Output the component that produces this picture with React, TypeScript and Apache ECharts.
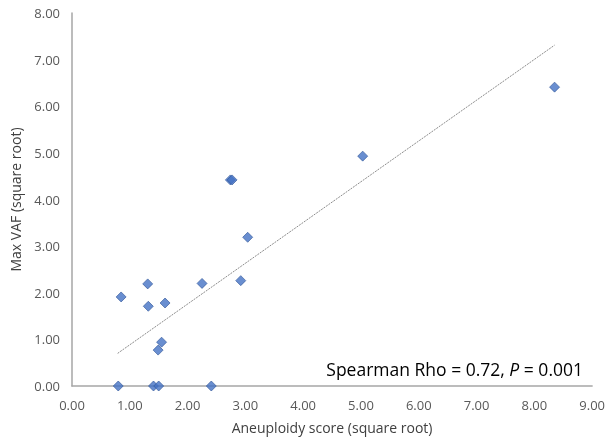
import React, { useEffect, useRef } from "react";
import * as echarts from "echarts";

const xValues = [0.85, 1.31, 1.32, 1.61, 1.55, 1.49, 2.25, 2.74, 2.77, 3.04, 2.92, 0.80, 1.41, 1.50, 2.41, 5.03, 8.35];
const yValues = [1.91, 2.19, 1.71, 1.78, 0.94, 0.77, 2.20, 4.42, 4.42, 3.19, 2.26, 0.00, 0.00, 0.00, 0.00, 4.93, 6.41];
const trendX = [0.79, 8.35];
const trendY = [0.70, 7.31];
const xTicks = [0, 1, 2, 3, 4, 5, 6, 7, 8, 9];
const yTicks = [0, 1, 2, 3, 4, 5, 6, 7, 8];
const xName = "Aneuploidy score (square root)";
const yName = "Max VAF (square root)";
const annotation = "Spearman Rho = 0.72, ";
const annotationP = "P";
const annotationVal = " = 0.001";

export default function App() {
  const ref = useRef<HTMLDivElement>(null);
  useEffect(() => {
    if (!ref.current) return;
    const chart = echarts.init(ref.current, null, { renderer: "svg" });
    const font = "'Open Sans', sans-serif";
    const axisLabel = { color: "#595959", fontFamily: font, fontSize: 13, formatter: (v: number) => v.toFixed(2) };
    chart.setOption({
      animation: false,
      grid: { left: 70, right: 15, top: 13, bottom: 41 },
      xAxis: {
        type: "value",
        min: xTicks[0],
        max: xTicks[xTicks.length - 1],
        interval: 1,
        name: xName,
        nameLocation: "middle",
        nameGap: 34,
        nameTextStyle: { color: "#404040", fontFamily: font, fontSize: 14 },
        axisLine: { show: true, lineStyle: { color: "#a6a6a6", width: 1.5 } },
        axisTick: { show: false },
        splitLine: { show: false },
        axisLabel: { ...axisLabel, margin: 12 },
      },
      yAxis: {
        type: "value",
        min: yTicks[0],
        max: yTicks[yTicks.length - 1],
        interval: 1,
        name: yName,
        nameLocation: "middle",
        nameGap: 50,
        nameTextStyle: { color: "#404040", fontFamily: font, fontSize: 14 },
        axisLine: { show: true, lineStyle: { color: "#a6a6a6", width: 1.5 } },
        axisTick: { show: false },
        splitLine: { show: false },
        axisLabel: { ...axisLabel, margin: 12 },
      },
      series: [
        {
          type: "line",
          data: trendX.map((x, i) => [x, trendY[i]]),
          showSymbol: false,
          symbol: "none",
          lineStyle: { color: "#8c8c8c", width: 1, type: [2, 1] },
          z: 1,
        },
        {
          type: "scatter",
          data: xValues.map((x, i) => [x, yValues[i]]),
          symbol: "diamond",
          symbolSize: 10,
          itemStyle: { color: "#4472C4", borderColor: "#2F5597", borderWidth: 0.8 },
          z: 2,
        },
      ],
      graphic: [
        {
          type: "text",
          right: 25,
          top: 360,
          style: {
            text: `{a|${annotation}}{i|${annotationP}}{a|${annotationVal}}`,
            rich: {
              a: { fontFamily: font, fontSize: 17.5, fill: "#000" },
              i: { fontFamily: font, fontSize: 17.5, fontStyle: "italic", fill: "#000" },
            },
          },
        },
      ],
    });
    return () => chart.dispose();
  }, []);
  return <div ref={ref} style={{ position: "fixed", left: 0, top: 0, width: 608, height: 439 }} />;
}
